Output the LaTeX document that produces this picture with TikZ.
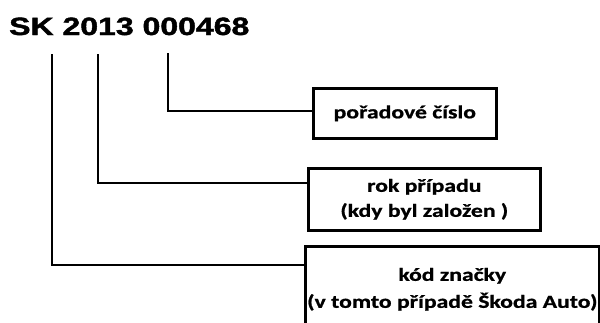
\documentclass[tikz,border=0pt]{standalone}
\usepackage{fontspec}
\setmainfont{Carlito}[BoldFeatures={FakeBold=0.8}]
\newfontfamily\titlefont{Liberation Sans}[BoldFeatures={FakeBold=1.5}]
\usetikzlibrary{calc}
\newcommand{\wide}[1]{\scalebox{1.28}[1]{#1}}
\begin{document}
\begin{tikzpicture}[x=1pt,y=-1pt,
  lead/.style={line width=2.6pt,line cap=rect},
  tagbox/.style={draw,line width=2.6pt,inner sep=0pt,anchor=north west,
    align=center,font=\fontsize{18.5}{26}\selectfont\bfseries}]
  \useasboundingbox (0,0) rectangle (600,322);
  \begin{scope}
  \clip (0,0) rectangle (600,322);

  % registration number
  \node[anchor=base west,inner sep=0pt,
        font=\titlefont\fontsize{25}{30}\selectfont\bfseries] (num) at (9,35)
        {\wide{SK 2013 000468}};

  % explanation boxes
  \node[tagbox,minimum width=183pt,minimum height=50pt] (poradi) at (312,87)
        {\wide{pořadové číslo}};
  \node[tagbox,minimum width=232pt,minimum height=62pt] (rok) at (307,167)
        {\wide{rok případu}\\[-1pt]\wide{(kdy byl založen )}};
  \node[tagbox,minimum width=294pt,minimum height=86pt] (kod) at (304,245)
        {\wide{kód značky}\\[1pt]\wide{(v tomto případě Škoda Auto)}};

  % leader lines from the number parts
  \coordinate (tsk) at (52,55);
  \coordinate (tyr) at (98,55);
  \coordinate (tno) at (168,54);
  \draw[lead] (tno) |- (poradi.west |- 0,111);
  \draw[lead] (tyr) |- (rok.west |- 0,183);
  \draw[lead] (tsk) |- (kod.west |- 0,265);
  \end{scope}
\end{tikzpicture}
\end{document}
